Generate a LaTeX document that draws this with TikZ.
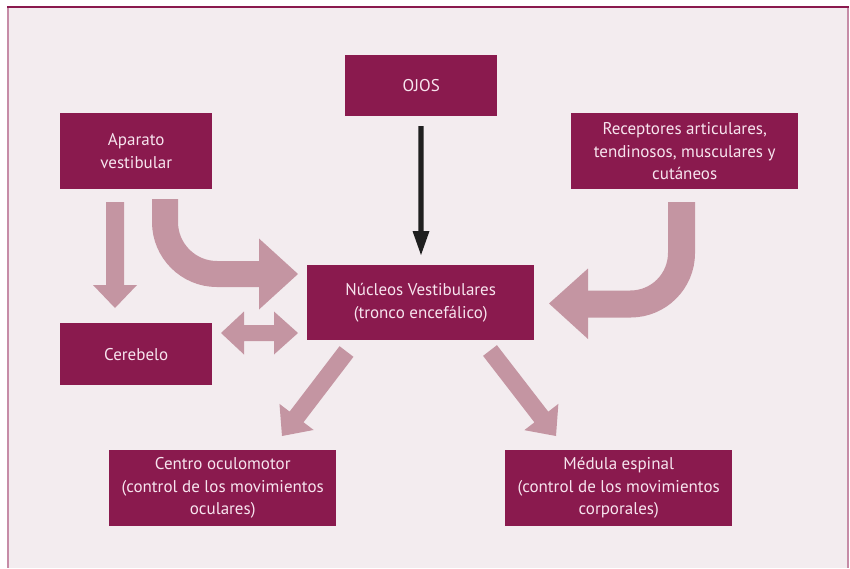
\documentclass[tikz,border=0pt]{standalone}
\usepackage{fontspec}
\setmainfont{PT Sans}
\usetikzlibrary{calc}
\definecolor{bg}{HTML}{F3ECEF}
\definecolor{boxc}{HTML}{8A1A4E}
\definecolor{pk}{HTML}{C495A2}
\definecolor{txt}{HTML}{F7E4EE}
\definecolor{edgeL}{HTML}{C68CA7}
\newcommand\blockarr[6][pk]{%
  \coordinate (ba) at ($(#3)!#6!(#2)$);
  \fill[#1] ($(#2)!#4!90:(#3)$) -- ($(ba)!#4!-90:(#2)$) -- ($(ba)!#5!-90:(#2)$) -- (#3)
    -- ($(ba)!#5!90:(#2)$) -- ($(ba)!#4!90:(#2)$) -- ($(#2)!#4!-90:(#3)$) -- cycle;}
\begin{document}
\begin{tikzpicture}[x=1pt,y=-1pt,
  blk/.style={fill=boxc, text=txt, align=center, font=\fontsize{17}{22.5}\selectfont,
    inner sep=0pt, anchor=north west},
  bandarrow/.style={draw=pk, line width=#1},
]
\useasboundingbox (0,0) rectangle (850,568);
\fill[white] (0,0) rectangle (850,568);
\fill[bg] (8,7) rectangle (848,568);
\draw[boxc, line width=2pt] (7,7) -- (849,7);
\draw[edgeL, line width=2pt] (8,8) -- (8,568);
\draw[edgeL, line width=2pt] (848,8) -- (848,568);

% boxes
\node[blk, minimum width=152pt, minimum height=61pt] (ojos) at (345,55) {OJOS};
\node[blk, minimum width=152pt, minimum height=76pt] (apar) at (60,113) {Aparato\\vestibular};
\node[blk, minimum width=227pt, minimum height=76pt] (rec) at (571,113) {Receptores articulares,\\tendinosos, musculares y\\cutáneos};
\node[blk, minimum width=227pt, minimum height=75pt] (nuc) at (307,265) {Núcleos Vestibulares\\(tronco encefálico)};
\node[blk, minimum width=152pt, minimum height=62pt] (cer) at (60,323) {Cerebelo};
\node[blk, minimum width=227pt, minimum height=76pt] (cen) at (109,450) {Centro oculomotor\\(control de los movimientos\\oculares)};
\node[blk, minimum width=227pt, minimum height=76pt] (med) at (505,450) {Médula espinal\\(control de los movimientos\\corporales)};

% arrow end points
\coordinate (ojosA) at (421,126);
\coordinate (ojosE) at (421,255);
\coordinate (aparA) at (115,202);
\coordinate (aparE) at (115,308);
\coordinate (cenA) at (346.5,351.5);
\coordinate (cenE) at (282,436);
\coordinate (medA) at (490,350.5);
\coordinate (medE) at (556,436);

% black arrow OJOS -> Nucleos
\blockarr[black!88]{ojosA}{ojosE}{2.6pt}{8.5pt}{24pt}
% Aparato -> Cerebelo
\blockarr{aparA}{aparE}{9pt}{22pt}{23pt}
% Nucleos -> Centro / Medula
\blockarr{cenA}{cenE}{8.75pt}{21.5pt}{24pt}
\blockarr{medA}{medE}{8.75pt}{21.5pt}{24pt}

% Cerebelo <-> Nucleos
\fill[pk] (221,333) -- (244,311.5) -- (244,325) -- (274,325) -- (274,311.5) -- (298,333)
  -- (274,354.5) -- (274,341) -- (244,341) -- (244,354.5) -- cycle;

% curved arrow Aparato -> Nucleos
\draw[bandarrow=26pt, rounded corners=52pt] (165,199) |- (260,274);
\fill[pk] (259,238.5) -- (298,274) -- (259,309.5) -- cycle;

% curved arrow Receptores -> Nucleos
\draw[bandarrow=27pt, rounded corners=51pt] (681.5,202) |- (587,304);
\fill[pk] (588,268.5) -- (549,303.5) -- (588,339) -- cycle;
\end{tikzpicture}
\end{document}
